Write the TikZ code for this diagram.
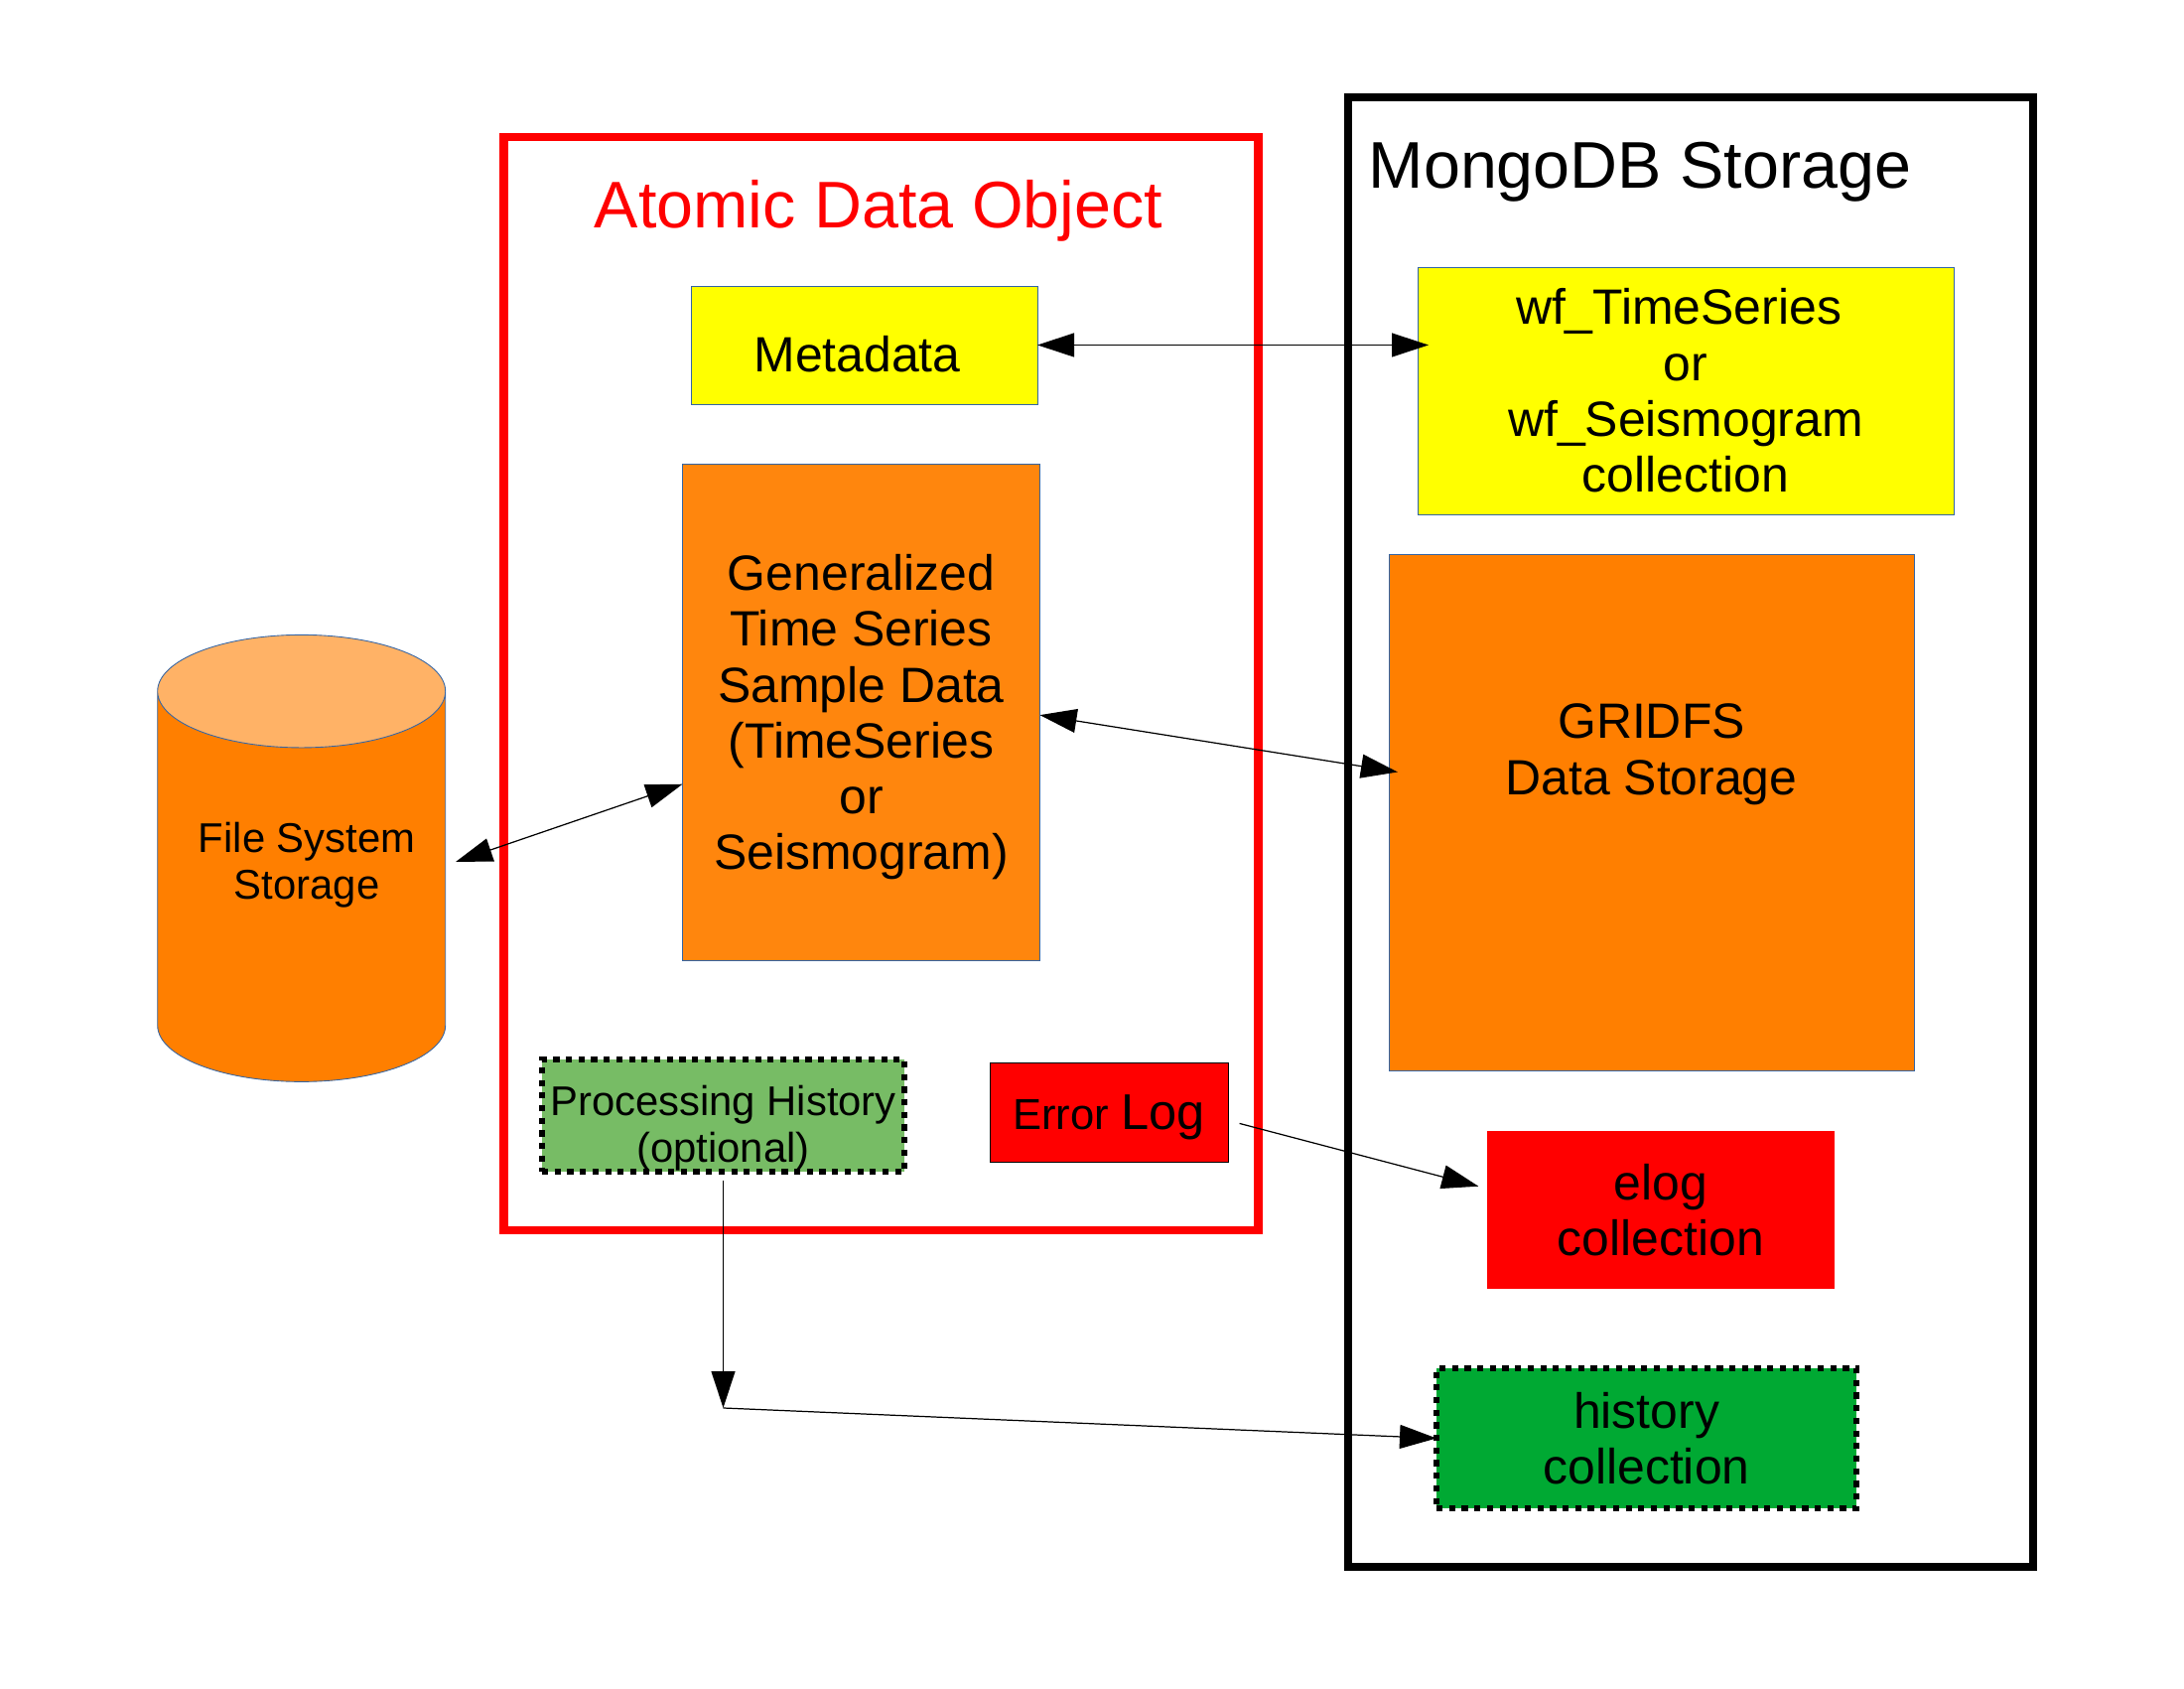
\documentclass[tikz,border=0pt]{standalone}
\usepackage{fontspec}
\setmainfont{Liberation Sans}
\usetikzlibrary{arrows.meta,positioning,shapes.geometric}
\definecolor{boxyellow}{HTML}{FFFF00}
\definecolor{boxorange}{HTML}{FF7F00}
\definecolor{genorange}{HTML}{FF860D}
\definecolor{toporange}{HTML}{FFB266}
\definecolor{edgeblue}{HTML}{3465A4}
\definecolor{procgreen}{HTML}{77BC65}
\definecolor{histgreen}{HTML}{00A933}

\begin{document}
\begin{tikzpicture}[
  box/.style={draw=edgeblue, line width=0.25pt, align=center, outer sep=0pt, inner sep=0pt,
    font=\fontsize{14.2}{16}\selectfont},
  dotbox/.style={box, draw=black, line width=1.7pt, dash pattern=on 0.62mm off 0.65mm},
  frame/.style={draw, line width=0.085cm, outer sep=0pt, inner sep=0pt},
  heading/.style={font=\fontsize{18.9}{22}\selectfont, inner sep=0pt},
  flow/.style={{Triangle[length=3.7mm,width=2.4mm]}-{Triangle[length=3.7mm,width=2.4mm]}, line width=0.35pt},
  oneway/.style={-{Triangle[length=3.7mm,width=2.4mm]}, line width=0.35pt}]
\useasboundingbox (0,0) rectangle (22,17);
\node[frame, draw=red, minimum width=7.6cm, minimum height=11.01cm] (ado) at (8.875,10.115) {};
\node[frame, draw=black, minimum width=6.9cm, minimum height=14.8cm] (mongo) at (17.03,8.62) {};
\node[heading, text=red] (adotitle) at (8.85,14.875) {Atomic Data Object};
\node[heading] (mongotitle) at (16.52,15.265) {MongoDB Storage};

\node[box, fill=boxyellow, minimum width=3.49cm, minimum height=1.19cm, text height=0.55cm] (meta) at (8.705,13.525) {Metadata~\mbox{}};
\node[box, fill=genorange, below=0.6cm of meta, xshift=-0.03cm, minimum width=3.6cm, minimum height=5cm, text height=3.28cm] (gen)
  {Generalized\\Time Series\\Sample Data\\(TimeSeries\\or\\Seismogram)};
\node[dotbox, fill=procgreen, below=1cm of gen, xshift=-1.39cm, minimum width=3.65cm, minimum height=1.13cm,
  text height=1.02cm, font=\fontsize{11.9}{13.2}\selectfont] (proc) {Processing History\\(optional)};
\node[box, draw=black, fill=red, right=0.86cm of proc, yshift=0.035cm, minimum width=2.4cm, minimum height=1cm, text height=0.46cm] (err)
  {\fontsize{12.4}{16}\selectfont Error \fontsize{14.4}{16}\selectfont Log};

\node[box, fill=boxyellow, minimum width=5.4cm, minimum height=2.49cm] (wf) at (16.98,13.065)
  {wf\_TimeSeries~\mbox{}\\or\\wf\_Seismogram\\collection};
\node[box, fill=boxorange, below=0.4cm of wf, xshift=-0.345cm, minimum width=5.29cm, minimum height=5.2cm, text depth=1.27cm] (grid)
  {GRIDFS\\Data Storage};
\node[box, draw=none, fill=red, below=0.61cm of grid, xshift=0.095cm, minimum width=3.5cm, minimum height=1.59cm] (elog)
  {elog\\collection};
\node[dotbox, fill=histgreen, below=0.8cm of elog, xshift=-0.145cm, minimum width=4.23cm, minimum height=1.41cm] (hist)
  {history\\collection};

\node[cylinder, shape border rotate=90, aspect=0.495, cylinder uses custom fill, cylinder body fill=boxorange,
  cylinder end fill=toporange, draw=edgeblue, line width=0.25pt, minimum width=2.9cm, minimum height=4.5cm, outer sep=0pt, inner sep=0pt,
  align=center, text depth=0.52cm, font=\fontsize{11.9}{13.2}\selectfont] (store) at (3.037,8.07)
  {\hspace*{0.11cm}File System\\\hspace*{0.11cm}Storage};

\coordinate (stout) at (4.59,8.32);
\coordinate (turn) at (7.285,2.82);
\draw[flow, shorten >=-1.1mm] (meta.east) -- (meta.east -| wf.west);
\draw[flow, shorten >=-0.9mm] (gen.-1) -- (grid.171);
\draw[flow] (stout) -- (gen.202);
\draw[oneway, shorten <=1.2mm, shorten >=0.9mm] (err.-4) -- (elog.173);
\draw[oneway, shorten <=0.85mm] (proc.south) -- (turn);
\draw[oneway] (turn) -- (hist.west);
\end{tikzpicture}
\end{document}
